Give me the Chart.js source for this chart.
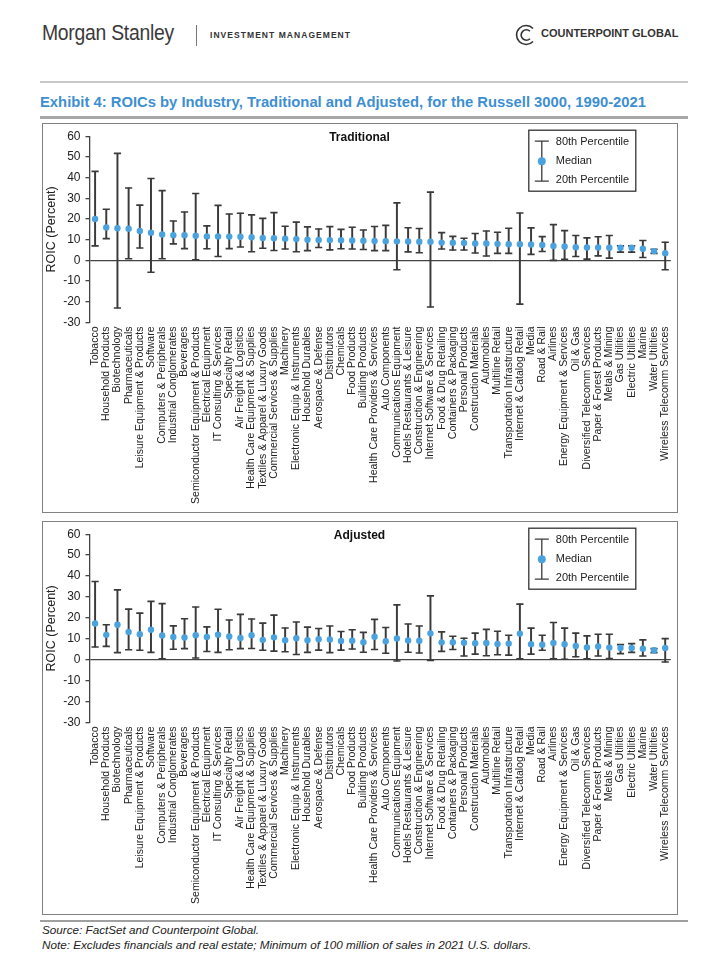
<!DOCTYPE html>
<html>
<head>
<meta charset="utf-8">
<script src="https://cdn.jsdelivr.net/npm/chart.js@4.4.1/dist/chart.umd.min.js"></script>
<style>
body { margin: 0; width: 709px; height: 965px; background: #fff; position: relative; overflow: hidden; font-family: "Liberation Sans", Arial, sans-serif; color: #222; }
.abs { position: absolute; white-space: nowrap; }
#ms { left: 42px; top: 20px; font-size: 22px; color: #3a3a3a; transform: scaleX(0.88); transform-origin: 0 0; letter-spacing: -0.3px; }
#bar { left: 196px; top: 25px; width: 1px; height: 21px; background: #777; }
#im { left: 210px; top: 30px; font-size: 8.5px; font-weight: bold; letter-spacing: 1.05px; color: #333; }
#logo { left: 514px; top: 23px; }
#cg { left: 541px; top: 27px; font-size: 11px; font-weight: bold; color: #333; }
.rule { position: absolute; left: 40px; width: 648px; background: #c8c8c8; }
#title { left: 40px; top: 94px; font-size: 14.8px; font-weight: bold; color: #3d8fd1; }
.panel { position: absolute; left: 42px; width: 636px; border: 1.5px solid #808080; box-sizing: border-box; }
.panel canvas { position: absolute; left: 0; top: 0; }
.foot { left: 42px; font-size: 11.7px; font-style: italic; color: #222; }
</style>
</head>
<body>
<div id="ms" class="abs">Morgan Stanley</div>
<div id="bar" class="abs"></div>
<div id="im" class="abs">INVESTMENT MANAGEMENT</div>
<svg id="logo" class="abs" width="24" height="24" viewBox="0 0 24 24">
  <path d="M19 5.5 A9.5 9.5 0 1 0 19 18.5" fill="none" stroke="#333" stroke-width="1.6"/>
  <path d="M16 8.3 A5.2 5.2 0 1 0 16 15.7" fill="none" stroke="#333" stroke-width="1.6"/>
</svg>
<div id="cg" class="abs">COUNTERPOINT GLOBAL</div>
<div class="rule" style="top:81px;height:1.5px;"></div>
<div id="title" class="abs">Exhibit 4: ROICs by Industry, Traditional and Adjusted, for the Russell 3000, 1990-2021</div>
<div class="rule" style="top:116px;height:2.5px;background:#a8a8a8;"></div>

<div class="panel" style="top:123px;height:390px;"><canvas id="trad" width="633" height="387"></canvas></div>
<div class="panel" style="top:521px;height:394px;"><canvas id="adj" width="633" height="391"></canvas></div>

<div class="rule" style="top:920px;height:1.5px;background:#a0a0a0;"></div>
<div class="abs foot" style="top:923px;">Source: FactSet and Counterpoint Global.</div>
<div class="abs foot" style="top:938px;">Note: Excludes financials and real estate; Minimum of 100 million of sales in 2021 U.S. dollars.</div>

<script>
const industries = [
	'Tobacco', 'Household Products', 'Biotechnology', 'Pharmaceuticals', 'Leisure Equipment & Products',
	'Software', 'Computers & Peripherals', 'Industrial Conglomerates', 'Beverages', 'Semiconductor Equipment & Products',
	'Electrical Equipment', 'IT Consulting & Services', 'Specialty Retail', 'Air Freight & Logistics', 'Health Care Equipment & Supplies',
	'Textiles & Apparel & Luxury Goods', 'Commercial Services & Supplies', 'Machinery', 'Electronic Equip & Instruments', 'Household Durables',
	'Aerospace & Defense', 'Distributors', 'Chemicals', 'Food Products', 'Building Products',
	'Health Care Providers & Services', 'Auto Components', 'Communications Equipment', 'Hotels Restaurants & Leisure', 'Construction & Engineering',
	'Internet Software & Services', 'Food & Drug Retailing', 'Containers & Packaging', 'Personal Products', 'Construction Materials',
	'Automobiles', 'Multiline Retail', 'Transportation Infrastructure', 'Internet & Catalog Retail', 'Media',
	'Road & Rail', 'Airlines', 'Energy Equipment & Services', 'Oil & Gas', 'Diversified Telecomm Services',
	'Paper & Forest Products', 'Metals & Mining', 'Gas Utilities', 'Electric Utilities', 'Marine',
	'Water Utilities', 'Wireless Telecomm Services'
];

const yTicks = [60, 50, 40, 30, 20, 10, 0, -10, -20, -30];

// Traditional ROIC
const tradP80 = [43, 24.7, 51.7, 35, 26.7, 39.6, 33.7, 19, 23.4, 32.3,
	16.7, 26.6, 22.4, 22.8, 22, 20.3, 23.1, 16.5, 18.5, 16.2,
	15.2, 16.3, 15, 16, 14.7, 16.4, 16.9, 27.8, 15.8, 15.4,
	33, 13.4, 11.6, 10.7, 13, 14.2, 13.6, 15.5, 22.9, 15.7,
	11.5, 17.3, 14.4, 12, 10.9, 11.4, 12, 7, 7, 9.6,
	5.4, 8.8];
const tradMedian = [20, 15.9, 15.5, 15.3, 14.2, 13.4, 12.5, 12.2, 12.2, 11.9,
	11.6, 11.6, 11.5, 11.4, 11.2, 10.8, 10.7, 10.5, 10.3, 10,
	9.9, 9.8, 9.7, 9.6, 9.5, 9.4, 9.3, 9.2, 9.1, 9,
	9, 8.6, 8.5, 8.4, 8.2, 8.2, 8, 7.8, 7.8, 7.7,
	7.5, 7, 6.7, 6.4, 6.2, 6.2, 6.1, 6.1, 6.1, 5.6,
	4.5, 3.5];
const tradP20 = [7, 10.5, -23, 0.8, 6, -5.7, 0.8, 8, 5.7, 0.3,
	5.6, 1.9, 5.7, 6.5, 4.2, 5.9, 4.8, 5.5, 4.2, 4.7,
	6.2, 5.1, 5.6, 5.5, 5.3, 4.7, 4.7, -4.5, 4.1, 3.7,
	-22.5, 5.5, 5, 5, 3.6, 2.1, 3.4, 3.4, -21.1, 2.9,
	4.3, 0, 0.5, 1.9, 0.6, 2.2, 1.1, 4, 4, 1.4,
	3.4, -4.5];

// Adjusted ROIC
const adjP80 = [37.4, 16.7, 33.4, 24.2, 22.3, 27.9, 26.8, 16.2, 19.6, 25.2,
	15.7, 24.1, 19, 21.7, 19.5, 17.5, 21.3, 15.2, 18, 15.6,
	14.9, 16.1, 13.5, 14.3, 13.1, 19.3, 15.4, 26.2, 17.1, 16.1,
	30.5, 13.3, 11.2, 10.3, 12.7, 14.5, 13.6, 11.7, 26.6, 15.1,
	11.7, 17.8, 15.1, 12.7, 11.4, 12.2, 12.2, 7.2, 7.7, 9.5,
	5.3, 10.1];
const adjMedian = [17.3, 11.9, 16.7, 13.3, 12.2, 14.3, 11.6, 10.9, 10.6, 11.7,
	10.9, 12, 11.1, 10.4, 11.7, 9.5, 10.7, 9.3, 10.3, 9.3,
	9.8, 9.7, 9, 9.1, 8.4, 11, 8.8, 10.2, 9.2, 9.1,
	12.6, 8.3, 8.4, 8.1, 7.9, 8, 7.5, 7.7, 12.5, 7.4,
	7.2, 8, 7.4, 6.6, 5.9, 6.3, 5.8, 5.6, 5.6, 5.3,
	4.5, 5.6];
const adjP20 = [6.1, 6.4, 3.4, 4.8, 4.5, 3.5, 0.5, 5, 5.3, 0.8,
	3.9, 3.5, 4.8, 5.3, 5.4, 4.5, 4.1, 3.8, 2.5, 3.5,
	4.6, 3.4, 4.6, 5.1, 3.6, 4.9, 3.1, -0.6, 3.6, 3.2,
	-0.3, 4, 4.9, 1.8, 2.7, 1.9, 2.4, 2.2, 0.5, 2.7,
	4.5, 0.5, 0.2, 1.4, 0.5, 1.8, 0.6, 2.9, 3.5, 1.8,
	3.4, -1.1];

const whisker = '#3a3a3a';
const dotBlue = '#4aa3df';

Chart.defaults.font.family = '"Liberation Sans", Arial, sans-serif';
Chart.defaults.color = '#222';

// panel title + legend box drawn inside the plot
const panelDecor = {
	id: 'panelDecor',
	afterDraw(chart, args, opts) {
		const ctx = chart.ctx;
		const area = chart.chartArea;
		ctx.save();
		ctx.fillStyle = '#111';
		ctx.font = 'bold 12px "Liberation Sans", Arial, sans-serif';
		ctx.textAlign = 'center';
		ctx.textBaseline = 'middle';
		ctx.fillText(opts.text, chart.width / 2, area.top + 1);

		const bx = area.right - 142, by = area.top - 6, bw = 107, bh = 61;
		ctx.strokeStyle = '#333';
		ctx.lineWidth = 1.3;
		ctx.strokeRect(bx, by, bw, bh);
		const cx = bx + 13;
		ctx.strokeStyle = whisker;
		ctx.lineWidth = 1.3;
		ctx.beginPath();
		ctx.moveTo(cx, by + 11); ctx.lineTo(cx, by + 51);
		ctx.moveTo(cx - 7, by + 11); ctx.lineTo(cx + 7, by + 11);
		ctx.moveTo(cx - 7, by + 51); ctx.lineTo(cx + 7, by + 51);
		ctx.stroke();
		ctx.fillStyle = dotBlue;
		ctx.beginPath();
		ctx.arc(cx, by + 31, 4, 0, Math.PI * 2);
		ctx.fill();
		ctx.fillStyle = '#222';
		ctx.font = '11px "Liberation Sans", Arial, sans-serif';
		ctx.textAlign = 'left';
		ctx.fillText('80th Percentile', cx + 14, by + 12);
		ctx.fillText('Median', cx + 14, by + 31);
		ctx.fillText('20th Percentile', cx + 14, by + 50);
		ctx.restore();
	}
};

function makeChart(id, title, p20, median, p80, xHeight) {
	new Chart(document.getElementById(id), {
		type: 'bar',
		data: {
			labels: industries,
			datasets: [{
				type: 'line',
				data: median,
				showLine: false,
				pointStyle: 'circle',
				pointRadius: 3.2,
				pointHoverRadius: 3.2,
				pointBackgroundColor: dotBlue,
				pointBorderWidth: 0
			}, {
				type: 'line',
				data: p80,
				showLine: false,
				pointStyle: 'line',
				pointRadius: 3.6,
				pointHoverRadius: 3.6,
				pointBorderColor: whisker,
				pointBorderWidth: 1.6
			}, {
				type: 'line',
				data: p20,
				showLine: false,
				pointStyle: 'line',
				pointRadius: 3.6,
				pointHoverRadius: 3.6,
				pointBorderColor: whisker,
				pointBorderWidth: 1.6
			}, {
				data: p20.map((v, i) => [v, p80[i]]),
				backgroundColor: whisker,
				barThickness: 1.3
			}]
		},
		options: {
			responsive: false,
			animation: false,
			layout: { padding: { top: 11.5, right: 3.5, left: 0, bottom: 0 } },
			plugins: {
				legend: { display: false },
				tooltip: { enabled: false },
				panelDecor: { text: title }
			},
			scales: {
				x: {
					grid: { display: false, drawTicks: false },
					border: { display: false },
					ticks: {
						autoSkip: false,
						maxRotation: 90,
						minRotation: 90,
						padding: 4,
						color: '#222',
						font: { size: 10.5 }
					},
					afterFit(scale) {
						scale.height = xHeight;
						scale.paddingLeft = 0;
						scale.paddingRight = 0;
					}
				},
				y: {
					min: -30,
					max: 60,
					afterBuildTicks(scale) { scale.ticks = yTicks.map(v => ({ value: v })); },
					grid: {
						color: c => c.tick && c.tick.value === 0 ? '#444' : 'rgba(0,0,0,0)',
						lineWidth: 1.3,
						tickColor: '#444',
						tickLength: 4
					},
					border: { display: true, color: '#444', width: 1.3 },
					ticks: { color: '#222', font: { size: 12 }, padding: 5 },
					title: {
						display: true,
						text: 'ROIC (Percent)',
						color: '#222',
						font: { size: 12.5 },
						padding: { top: 1, bottom: 0 }
					},
					afterFit(scale) { scale.width = 46.5; }
				}
			}
		},
		plugins: [panelDecor]
	});
}

makeChart('trad', 'Traditional', tradP20, tradMedian, tradP80, 188.5);
makeChart('adj', 'Adjusted', adjP20, adjMedian, adjP80, 190.5);
</script>
</body>
</html>
